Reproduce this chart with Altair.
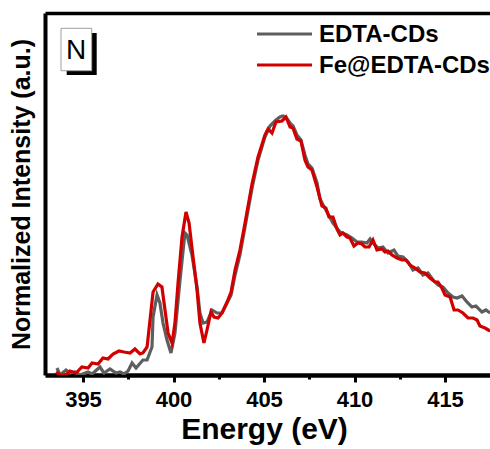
import altair as alt
import pandas as pd

# ---- data (Energy in eV, normalized intensity in a.u.) ----
E_red = [393.51, 393.73, 394.06, 394.28, 394.62, 394.94, 395.28, 395.50, 395.83, 396.10,
         396.38, 396.66, 396.99, 397.26, 397.60, 397.87, 398.15, 398.31, 398.54, 398.87,
         399.14, 399.36, 399.53, 399.70, 399.92, 400.08, 400.25, 400.47, 400.69, 400.86,
         401.08, 401.30, 401.46, 401.68, 401.85, 402.07, 402.24, 402.46, 402.68, 402.96,
         403.18, 403.40, 403.67, 403.90, 404.34, 404.67, 405.05, 405.22, 405.44, 405.66,
         405.99, 406.21, 406.44, 406.60, 406.82, 407.04, 407.26, 407.43, 407.65, 407.93,
         408.20, 408.42, 408.59, 408.81, 409.03, 409.20, 409.36, 409.59, 409.75, 409.97,
         410.19, 410.41, 410.58, 410.80, 411.02, 411.24, 411.52, 411.68, 411.85, 412.07,
         412.35, 412.62, 412.84, 413.07, 413.34, 413.62, 413.89, 414.17, 414.45, 414.61,
         414.83, 415.00, 415.28, 415.50, 415.72, 415.99, 416.27, 416.55, 416.77, 416.93,
         417.21, 417.49]
I_red = [0.83, 0.00, 0.00, 1.10, 0.55, 2.21, 1.93, 3.31, 3.04, 4.70,
         4.42, 5.80, 6.63, 6.35, 6.08, 7.18, 5.80, 6.08, 7.73, 22.93,
         25.14, 24.31, 17.96, 11.60, 8.84, 14.36, 25.41, 38.12, 45.03, 41.99,
         32.60, 23.48, 14.36, 8.84, 12.43, 17.40, 16.02, 15.75, 17.13, 20.17,
         22.93, 29.00, 34.50, 40.61, 52.80, 60.22, 66.30, 67.96, 66.85, 69.89,
         70.17, 71.27, 68.51, 68.23, 65.19, 64.64, 59.39, 57.46, 56.63, 51.93,
         46.70, 46.13, 43.65, 43.65, 40.30, 38.67, 39.23, 38.12, 37.85, 35.64,
         36.46, 36.19, 35.36, 35.36, 37.29, 34.53, 34.81, 33.98, 34.25, 33.15,
         32.32, 31.77, 31.77, 30.39, 29.56, 28.45, 28.18, 26.80, 25.69, 25.69,
         24.03, 22.10, 21.55, 17.96, 17.96, 17.13, 15.75, 15.75, 15.19, 13.54,
         12.98, 12.15]

E_gray = [393.56, 393.73, 394.06, 394.28, 394.56, 394.83, 395.28, 395.50, 395.94, 396.16,
          396.49, 396.82, 397.04, 397.26, 397.49, 397.71, 397.93, 398.31, 398.54, 398.81,
          398.87, 399.09, 399.25, 399.42, 399.64, 399.86, 400.08, 400.36, 400.63, 400.75,
          401.02, 401.30, 401.46, 401.63, 401.85, 402.13, 402.40, 402.68, 402.96, 403.18,
          403.40, 403.67, 403.90, 404.34, 404.67, 405.05, 405.33, 405.66, 405.88, 406.05,
          406.21, 406.44, 406.60, 406.82, 407.04, 407.26, 407.43, 407.65, 407.93, 408.09,
          408.48, 408.81, 409.20, 409.59, 409.86, 410.14, 410.41, 410.69, 410.86, 411.02,
          411.30, 411.57, 411.85, 412.18, 412.40, 412.68, 412.96, 413.23, 413.51, 413.78,
          414.06, 414.34, 414.61, 414.89, 415.17, 415.44, 415.66, 415.94, 416.21, 416.49,
          416.71, 417.04, 417.26, 417.49]
I_gray = [1.93, 0.00, 1.38, 0.55, 0.83, 0.00, 0.83, 0.28, 2.21, 0.55,
          1.66, 0.55, 0.83, 0.28, 1.10, 3.31, 1.93, 4.14, 4.14, 7.73,
          16.02, 22.10, 19.89, 14.36, 9.67, 6.08, 11.60, 26.24, 39.23, 38.67,
          33.15, 24.31, 17.13, 14.36, 14.64, 17.96, 17.13, 17.13, 19.89, 22.10,
          27.62, 33.15, 39.50, 51.66, 59.39, 65.75, 68.78, 70.44, 71.27, 71.55,
          71.27, 69.61, 68.78, 66.30, 64.92, 60.77, 58.29, 57.18, 53.04, 48.60,
          45.03, 41.99, 39.50, 38.67, 37.85, 36.74, 36.74, 36.46, 37.57, 36.46,
          35.08, 35.36, 33.70, 34.53, 32.87, 32.60, 31.22, 29.01, 29.56, 27.62,
          28.18, 26.24, 24.86, 24.31, 22.65, 21.55, 21.27, 21.82, 20.17, 18.78,
          19.06, 17.40, 17.96, 17.13]

series_names = ["EDTA-CDs", "Fe@EDTA-CDs"]
series_colors = ["#5e5e5e", "#d10000"]
major_ticks = [395, 400, 405, 410, 415]
minor_ticks = [397.5, 402.5, 407.5, 412.5]

FONT = "Liberation Sans"
W, H = 445, 362
X0, X1 = 392.9, 392.9 + W / 18.1
Y0, Y1 = 0, 100

df_gray = pd.DataFrame({"E": E_gray, "I": I_gray, "s": series_names[0]})
df_red = pd.DataFrame({"E": E_red, "I": I_red, "s": series_names[1]})

xscale = alt.Scale(domain=[X0, X1], nice=False, zero=False)
yscale = alt.Scale(domain=[Y0, Y1], nice=False, zero=False)

xaxis = alt.Axis(
    title="Energy (eV)", values=major_ticks, format="d", orient="bottom",
    tickSize=7, tickWidth=3, tickColor="black",
    domain=True, domainWidth=4.5, domainColor="black",
    labelFont=FONT, labelFontSize=22, labelFontWeight="bold", labelColor="black",
    labelPadding=7, grid=False, labelFlush=False,
    titleFont=FONT, titleFontSize=30, titleFontWeight="bold", titleColor="black",
    titlePadding=4, titleX=219,
)
yaxis = alt.Axis(
    title="Normalized Intensity (a.u.)", labels=False, ticks=False, grid=False,
    domain=True, domainWidth=4, domainColor="black",
    titleFont=FONT, titleFontSize=25, titleFontWeight="bold", titleColor="black",
    titlePadding=11,
)
# minor ticks: a second bottom axis without labels or domain
minor_axis = alt.Axis(
    orient="bottom", values=minor_ticks, labels=False, domain=False, grid=False,
    tickSize=4, tickWidth=3, tickColor="black", title=None, offset=0,
)
# top frame: a top axis showing only its domain line
top_axis = alt.Axis(
    orient="top", labels=False, ticks=False, grid=False, title=None,
    domain=True, domainWidth=3.5, domainColor="black", offset=0,
)

cscale = alt.Scale(domain=series_names, range=series_colors)

gray = alt.Chart(df_gray).mark_line(strokeWidth=3.2, clip=True).encode(
    x=alt.X("E:Q", scale=xscale, axis=xaxis),
    y=alt.Y("I:Q", scale=yscale, axis=yaxis),
    color=alt.Color("s:N", scale=cscale, legend=None),
)
red = alt.Chart(df_red).mark_line(strokeWidth=3.2, clip=True).encode(
    x=alt.X("E:Q", scale=xscale, axis=top_axis),
    y=alt.Y("I:Q", scale=yscale),
    color=alt.Color("s:N", scale=cscale, legend=None),
)
minor = alt.Chart(pd.DataFrame({"E": minor_ticks})).mark_point(opacity=0).encode(
    x=alt.X("E:Q", scale=xscale, axis=minor_axis),
)

# manual legend (one rule + one label per series)
legend_layers = []
for name, col, ypos in zip(series_names, series_colors, [21, 52]):
    d = pd.DataFrame({"s": [name]})
    legend_layers.append(
        alt.Chart(d).mark_rule(strokeWidth=3.2, color=col).encode(
            x=alt.value(212), x2=alt.value(267), y=alt.value(ypos)
        )
    )
    legend_layers.append(
        alt.Chart(d).mark_text(
            font=FONT, fontSize=24, fontWeight="bold", align="left",
            baseline="middle", color="black", dy=1
        ).encode(x=alt.value(274), y=alt.value(ypos), text="s:N")
    )

# "N" label box with shadow
box_df = pd.DataFrame({"t": ["N"]})
shadow = alt.Chart(box_df).mark_rect(color="black").encode(
    x=alt.value(21.7), x2=alt.value(51.7), y=alt.value(20), y2=alt.value(62)
)
box = alt.Chart(box_df).mark_rect(fill="white", stroke="#a0a0a0", strokeWidth=1).encode(
    x=alt.value(16), x2=alt.value(46.7), y=alt.value(15.3), y2=alt.value(57.7)
)
ntext = alt.Chart(box_df).mark_text(
    font=FONT, fontSize=28, align="center", baseline="middle", color="black", dy=1
).encode(x=alt.value(31), y=alt.value(36.5), text="t:N")

chart = alt.layer(gray, red, minor, *legend_layers, shadow, box, ntext).resolve_axis(
    x="independent"
).properties(
    width=W, height=H,
    background="white",
    autosize=alt.AutoSizeParams(type="none"),
    padding={"left": 45, "top": 13, "right": 0, "bottom": 74},
).configure_view(
    stroke="transparent", strokeWidth=0
)

chart.save("out.html", embed_options={"renderer": "svg", "actions": False})
